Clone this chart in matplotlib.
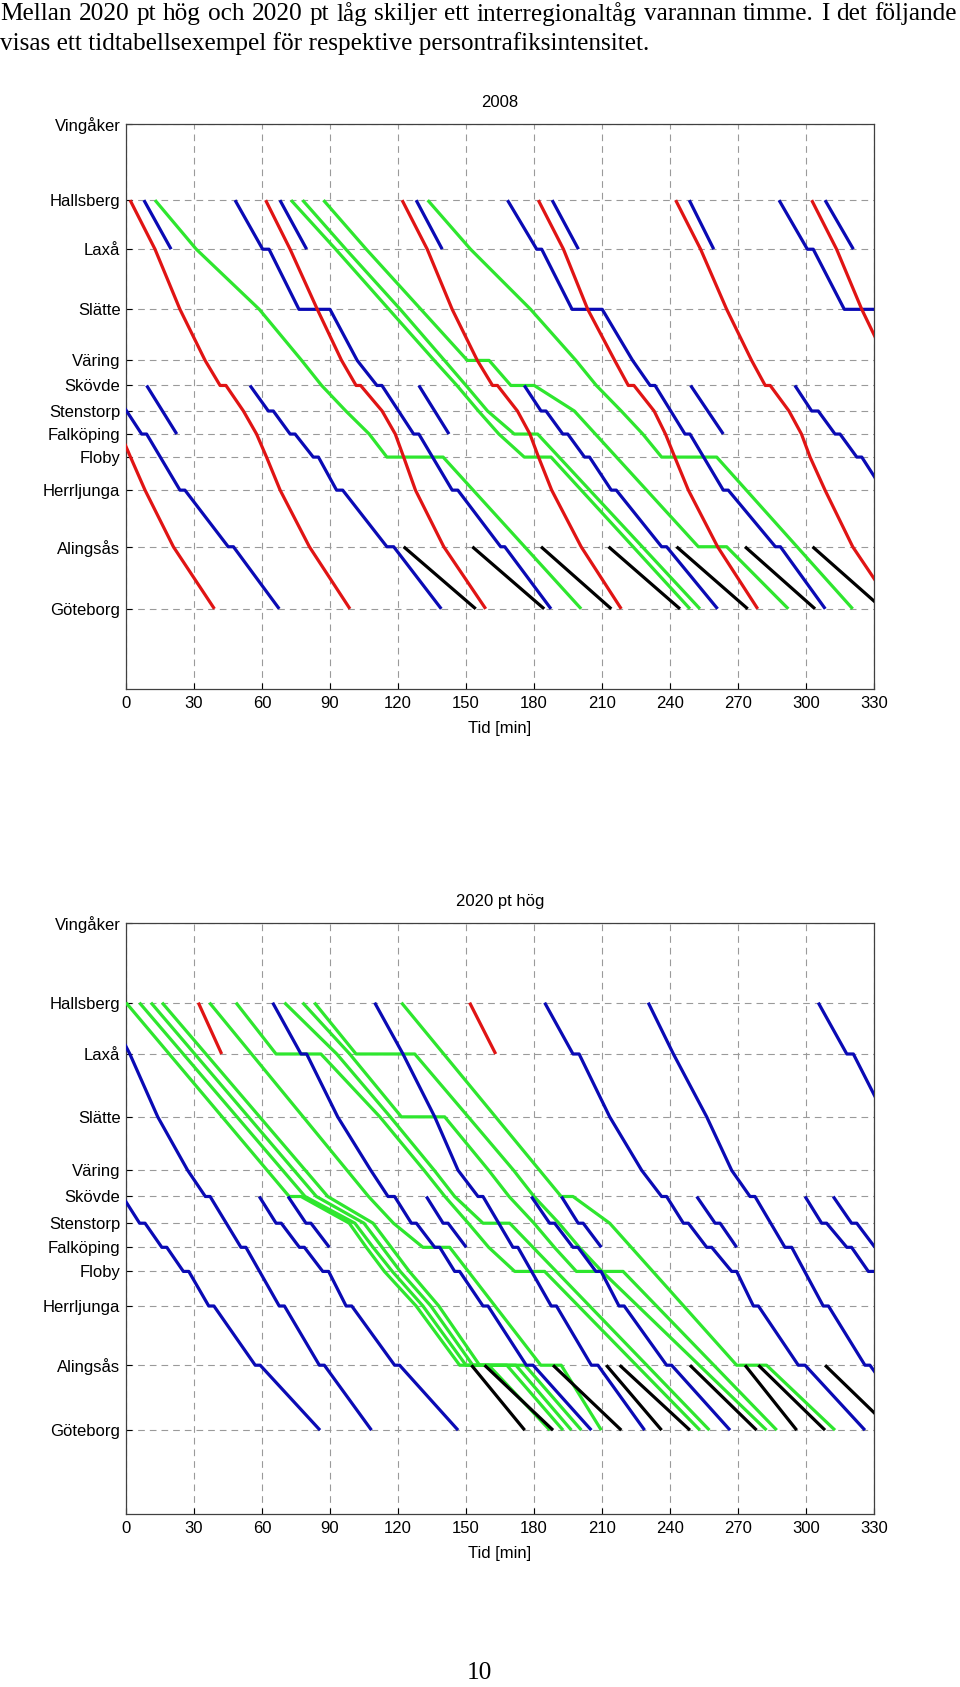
import matplotlib
matplotlib.use('Agg')
import matplotlib.pyplot as plt

# ---------------- stations ----------------
STATION_NAMES = ['Vingåker', 'Hallsberg', 'Laxå', 'Slätte', 'Väring', 'Skövde',
                 'Stenstorp', 'Falköping', 'Floby', 'Herrljunga', 'Alingsås', 'Göteborg']
STATION_CODES = ['Vi', 'Hb', 'La', 'Sl', 'Va', 'Sk', 'St', 'Fa', 'Fl', 'He', 'Al', 'Gb']
STATION_POS = [484, 408, 359, 299, 248, 223, 197.5, 174.5, 151.5, 118.5, 62, 0]
X_TICKS = [0, 30, 60, 90, 120, 150, 180, 210, 240, 270, 300, 330]

TITLE_LINE1 = 'Mellan 2020 pt hög och 2020 pt låg skiljer ett interregionaltåg varannan timme. I det följande'
TITLE_LINE2 = 'visas ett tidtabellsexempel för respektive persontrafiksintensitet.'
PAGE_NUMBER = '10'

# ---------------- 2008 ----------------
RED_2008 = [
    [(-58, 'Hb'), (-47, 'La'), (-36, 'Sl'), (-25, 'Va'), (-18.2, 'Sk'), (-15.8, 'Sk'), (-7.5, 'St'), (-2.4, 'Fa'), (2, 'Fl'), (8.4, 'He'), (20.9, 'Al'), (39, 'Gb')],
    [(1.8, 'Hb'), (12.8, 'La'), (23.8, 'Sl'), (34.9, 'Va'), (41.5, 'Sk'), (44.1, 'Sk'), (51.8, 'St'), (57.6, 'Fa'), (62, 'Fl'), (68, 'He'), (80.9, 'Al'), (98.8, 'Gb')],
    [(61.6, 'Hb'), (72.4, 'La'), (84.4, 'Sl'), (95.1, 'Va'), (101.5, 'Sk'), (103.5, 'Sk'), (113, 'St'), (118.8, 'Fa'), (122.5, 'Fl'), (127.7, 'He'), (140.2, 'Al'), (158.7, 'Gb')],
    [(121.8, 'Hb'), (132.9, 'La'), (143.9, 'Sl'), (155, 'Va'), (161.7, 'Sk'), (163.9, 'Sk'), (172.7, 'St'), (178.2, 'Fa'), (182, 'Fl'), (187.8, 'He'), (200.8, 'Al'), (218.5, 'Gb')],
    [(181.9, 'Hb'), (193, 'La'), (203.7, 'Sl'), (215.6, 'Va'), (221.6, 'Sk'), (224.1, 'Sk'), (233, 'St'), (238, 'Fa'), (242.1, 'Fl'), (248.1, 'He'), (261, 'Al'), (278.7, 'Gb')],
    [(242.5, 'Hb'), (253.5, 'La'), (265, 'Sl'), (276, 'Va'), (282, 'Sk'), (284.2, 'Sk'), (292.5, 'St'), (298, 'Fa'), (301.8, 'Fl'), (308.4, 'He'), (320.6, 'Al'), (339, 'Gb')],
    [(302.5, 'Hb'), (313.5, 'La'), (324.6, 'Sl'), (335.5, 'Va'), (342, 'Sk')],
]
BLUE_2008 = [
    [(7.9, 'Hb'), (19.9, 'La')],
    [(67.9, 'Hb'), (79.7, 'La')],
    [(128, 'Hb'), (139.5, 'La')],
    [(188, 'Hb'), (199.6, 'La')],
    [(248.5, 'Hb'), (259.3, 'La')],
    [(308.4, 'Hb'), (320.9, 'La')],
    [(-9.3, 'Sk'), (-7.1, 'Sk'), (6.9, 'Fa'), (9.1, 'Fa'), (23.8, 'He'), (26, 'He'), (45.1, 'Al'), (47.4, 'Al'), (67.6, 'Gb')],
    [(48.1, 'Hb'), (60.3, 'La'), (63.1, 'La'), (76.3, 'Sl'), (90, 'Sl'), (102, 'Va'), (110.7, 'Sk'), (112.9, 'Sk'), (126.9, 'Fa'), (129.2, 'Fa'), (143.9, 'He'), (146.4, 'He'), (165.3, 'Al'), (167.1, 'Al'), (187.5, 'Gb')],
    [(168.3, 'Hb'), (181.2, 'La'), (183.4, 'La'), (196.8, 'Sl'), (210.1, 'Sl'), (223.5, 'Va'), (231.2, 'Sk'), (233.4, 'Sk'), (246.6, 'Fa'), (248.8, 'Fa'), (263.5, 'He'), (265.7, 'He'), (286.5, 'Al'), (288.7, 'Al'), (308.5, 'Gb')],
    [(288.1, 'Hb'), (300.6, 'La'), (303.2, 'La'), (316.9, 'Sl'), (331, 'Sl'), (343, 'Va')],
    [(54.7, 'Sk'), (62.8, 'St'), (65, 'St'), (72.4, 'Fa'), (74.6, 'Fa'), (82.6, 'Fl'), (84.9, 'Fl'), (92.9, 'He'), (95.6, 'He'), (115.1, 'Al'), (118.1, 'Al'), (139.1, 'Gb')],
    [(175.7, 'Sk'), (183.1, 'St'), (185.3, 'St'), (192.7, 'Fa'), (194.9, 'Fa'), (202.3, 'Fl'), (204.5, 'Fl'), (214.1, 'He'), (216.3, 'He'), (236.3, 'Al'), (238.5, 'Al'), (261, 'Gb')],
    [(295.1, 'Sk'), (302.5, 'St'), (305.4, 'St'), (312.8, 'Fa'), (315, 'Fa'), (322.4, 'Fl'), (324.6, 'Fl'), (334, 'He')],
    [(9.1, 'Sk'), (22.4, 'Fa')],
    [(129.2, 'Sk'), (142.5, 'Fa')],
    [(249.1, 'Sk'), (263.5, 'Fa')],
]
GREEN_2008 = [
    [(12.8, 'Hb'), (31, 'La'), (58.8, 'Sl'), (77.5, 'Va'), (86.3, 'Sk'), (97, 'St'), (107.3, 'Fa'), (115.1, 'Fl'), (139.9, 'Fl'), (200.8, 'Gb')],
    [(72.8, 'Hb'), (92.5, 'La'), (116, 'Sl'), (136, 'Va'), (146, 'Sk'), (155.5, 'St'), (164.5, 'Fa'), (175.7, 'Fl'), (187.5, 'Fl'), (248.8, 'Gb')],
    [(77.9, 'Hb'), (97, 'La'), (121, 'Sl'), (140.5, 'Va'), (150, 'Sk'), (159.5, 'St'), (171.3, 'Fa'), (181.6, 'Fa'), (253.2, 'Gb')],
    [(87.1, 'Hb'), (106, 'La'), (150.6, 'Va'), (160.2, 'Va'), (169.8, 'Sk'), (180.1, 'Sk'), (197.8, 'St'), (252.5, 'Al'), (265, 'Al'), (292.2, 'Gb')],
    [(133.1, 'Hb'), (152, 'La'), (178.5, 'Sl'), (198.5, 'Va'), (207.5, 'Sk'), (218.5, 'St'), (228, 'Fa'), (236.3, 'Fl'), (260.6, 'Fl'), (320.6, 'Gb')],
]
BLACK_2008 = [
    [(122.5, 'Al'), (154.3, 'Gb')], [(152.8, 'Al'), (184.5, 'Gb')], [(183.1, 'Al'), (214.1, 'Gb')],
    [(212.9, 'Al'), (244.4, 'Gb')], [(242.9, 'Al'), (274.3, 'Gb')], [(273.1, 'Al'), (304, 'Gb')],
    [(302.9, 'Al'), (333.9, 'Gb')],
]

# ---------------- 2020 pt hög ----------------
RED_2020 = [
    [(31.9, 'Hb'), (42.2, 'La')],
    [(151.6, 'Hb'), (163.1, 'La')],
]
BLUE_2020 = [
    [(-3.5, 'Sk'), (-1.5, 'Sk'), (6, 'St'), (8.4, 'St'), (15.8, 'Fa'), (18, 'Fa'), (25.3, 'Fl'), (27.7, 'Fl'), (36.5, 'He'), (38.8, 'He'), (57, 'Al'), (59.2, 'Al'), (85.6, 'Gb')],
    [(-10, 'Hb'), (1.7, 'La'), (14, 'Sl'), (27.2, 'Va'), (35, 'Sk'), (37.1, 'Sk'), (50.7, 'Fa'), (52.9, 'Fa'), (67.6, 'He'), (69.9, 'He'), (85.3, 'Al'), (87.5, 'Al'), (108.3, 'Gb')],
    [(58.8, 'Sk'), (66.2, 'St'), (68.5, 'St'), (76.5, 'Fa'), (78.7, 'Fa'), (86.8, 'Fl'), (89.4, 'Fl'), (97.1, 'He'), (99.6, 'He'), (118.5, 'Al'), (120.7, 'Al'), (146.5, 'Gb')],
    [(71.5, 'Sk'), (79.4, 'St'), (81.6, 'St'), (89.7, 'Fa')],
    [(64.7, 'Hb'), (77.2, 'La'), (79.7, 'La'), (93.4, 'Sl'), (108, 'Va'), (115.6, 'Sk'), (118.5, 'Sk'), (125.9, 'St'), (128.1, 'St'), (136.2, 'Fa'), (138.4, 'Fa'), (145, 'Fl'), (147.2, 'Fl'), (157.5, 'He'), (159.7, 'He'), (176.6, 'Al'), (179.6, 'Al'), (205.3, 'Gb')],
    [(132.5, 'Sk'), (139.9, 'St'), (142.1, 'St'), (150.1, 'Fa')],
    [(109.7, 'Hb'), (122.2, 'La'), (136.2, 'Sl'), (146.5, 'Va'), (155.3, 'Sk'), (157.5, 'Sk'), (170.7, 'Fa'), (172.9, 'Fa'), (187.6, 'He'), (189.9, 'He'), (205.3, 'Al'), (208.2, 'Al'), (228.8, 'Gb')],
    [(178.8, 'Sk'), (186.9, 'St'), (189.1, 'St'), (197.2, 'Fa'), (199.4, 'Fa'), (207.3, 'Fl'), (209.6, 'Fl'), (217.5, 'He'), (219.8, 'He'), (238.5, 'Al'), (240.7, 'Al'), (266.5, 'Gb')],
    [(192.1, 'Sk'), (199.5, 'St'), (201.7, 'St'), (209.7, 'Fa')],
    [(184.7, 'Hb'), (197.2, 'La'), (199.9, 'La'), (213.4, 'Sl'), (227.5, 'Va'), (236.3, 'Sk'), (238.5, 'Sk'), (245.9, 'St'), (248.1, 'St'), (256.2, 'Fa'), (258.4, 'Fa'), (267.2, 'Fl'), (269.4, 'Fl'), (276.8, 'He'), (279, 'He'), (296.6, 'Al'), (299.6, 'Al'), (326, 'Gb')],
    [(251.8, 'Sk'), (259.9, 'St'), (262.1, 'St'), (269.4, 'Fa')],
    [(230.4, 'Hb'), (241.5, 'La'), (256.2, 'Sl'), (267.2, 'Va'), (275.3, 'Sk'), (277.5, 'Sk'), (290.7, 'Fa'), (293.7, 'Fa'), (307.6, 'He'), (309.9, 'He'), (326, 'Al'), (328.2, 'Al'), (349, 'Gb')],
    [(299.6, 'Sk'), (306.9, 'St'), (309.1, 'St'), (318, 'Fa'), (320.1, 'Fa'), (327.5, 'Fl'), (330.4, 'Fl'), (338, 'He')],
    [(312, 'Sk'), (320.1, 'St'), (322.4, 'St'), (330.4, 'Fa')],
    [(305.4, 'Hb'), (318, 'La'), (320.9, 'La'), (335, 'Sl')],
]
GREEN_2020 = [
    [(0, 'Hb'), (72, 'Sk'), (77.2, 'Sk'), (98.5, 'St'), (106, 'Fa'), (114, 'Fl'), (128, 'He'), (147.2, 'Al'), (160, 'Al'), (187, 'Gb')],
    [(5.9, 'Hb'), (79, 'Sk'), (101, 'St'), (109, 'Fa'), (117.5, 'Fl'), (131, 'He'), (150, 'Al'), (168, 'Al'), (192.8, 'Gb')],
    [(11, 'Hb'), (84, 'Sk'), (105, 'St'), (113, 'Fa'), (121, 'Fl'), (134.5, 'He'), (153, 'Al'), (172, 'Al'), (196.5, 'Gb')],
    [(15.9, 'Hb'), (89, 'Sk'), (109, 'St'), (117, 'Fa'), (125, 'Fl'), (138, 'He'), (156, 'Al'), (176, 'Al'), (200.9, 'Gb')],
    [(36.8, 'Hb'), (107, 'Sk'), (118, 'St'), (131, 'Fa'), (142.8, 'Fa'), (183, 'Al'), (192, 'Al'), (209.7, 'Gb')],
    [(48.5, 'Hb'), (66.2, 'La'), (86, 'La'), (112, 'Sl'), (131.5, 'Va'), (140.7, 'Sk'), (151, 'St'), (160, 'Fa'), (171.5, 'Fl'), (184.7, 'Fl'), (253.2, 'Gb')],
    [(69.9, 'Hb'), (93, 'La'), (116.6, 'Sl'), (136, 'Va'), (145, 'Sk'), (157.5, 'St'), (169.3, 'St'), (257.4, 'Gb')],
    [(77.9, 'Hb'), (98.7, 'La'), (121.5, 'Sl'), (140.6, 'Sl'), (160, 'Va'), (169, 'Sk'), (180, 'St'), (189, 'Fa'), (198.7, 'Fl'), (219.3, 'Fl'), (287.1, 'Gb')],
    [(83.1, 'Hb'), (101.5, 'La'), (127.4, 'La'), (151, 'Sl'), (171, 'Va'), (180, 'Sk'), (191, 'St'), (200, 'Fa'), (210, 'Fl'), (282.6, 'Gb')],
    [(121.5, 'Hb'), (192, 'Sk'), (197.2, 'Sk'), (213.4, 'St'), (269.4, 'Al'), (282.6, 'Al'), (312.8, 'Gb')],
]
BLACK_2020 = [
    [(152.4, 'Al'), (175.9, 'Gb')], [(158.2, 'Al'), (188.4, 'Gb')], [(188.4, 'Al'), (218.5, 'Gb')],
    [(211.9, 'Al'), (236.3, 'Gb')], [(217.8, 'Al'), (248.8, 'Gb')], [(248.8, 'Al'), (278.2, 'Gb')],
    [(273.1, 'Al'), (295.9, 'Gb')], [(279, 'Al'), (308.4, 'Gb')], [(308.4, 'Al'), (338, 'Gb')],
]

# ---------------- drawing ----------------
POS = dict(zip(STATION_CODES, STATION_POS))
COLORS = {'red': '#e01414', 'blue': '#0a0ab4', 'green': '#2ee62e', 'black': '#000000'}
SANS = ['Liberation Sans', 'DejaVu Sans']
SERIF = ['Liberation Serif', 'DejaVu Serif']
FIG_W, FIG_H = 960, 1687

fig = plt.figure(figsize=(FIG_W / 100, FIG_H / 100), dpi=100)


def draw_panel(ax, groups, title):
    for color, trains in groups:
        for tr in trains:
            ax.plot([p[0] for p in tr], [POS[p[1]] for p in tr], color=COLORS[color],
                    lw=2.3, solid_joinstyle='round', solid_capstyle='butt', zorder=3)
    ax.set_xlim(0, 330)
    ax.set_ylim(-80, 484)
    ax.set_xticks(X_TICKS)
    ax.set_xticklabels([str(v) for v in X_TICKS], family=SANS, fontsize=12)
    ax.set_yticks(STATION_POS)
    ax.set_yticklabels(STATION_NAMES, family=SANS, fontsize=12)
    ax.grid(True, linestyle=(0, (6, 4.5)), color='#9a9a9a', lw=0.8, zorder=1)
    ax.tick_params(direction='in', length=4, pad=5, colors='#000000', width=0.8)
    ax.tick_params(axis='y', pad=4)
    for s in ax.spines.values():
        s.set_color('#404040')
        s.set_linewidth(0.9)
    ax.set_xlabel('Tid [min]', family=SANS, fontsize=12, labelpad=7)
    ax.set_title(title, family=SANS, fontsize=12, pad=12)


W = 748 / FIG_W
ax1 = fig.add_axes([126 / FIG_W, 1 - 689 / FIG_H, W, 565 / FIG_H])
draw_panel(ax1, [('green', GREEN_2008), ('black', BLACK_2008), ('blue', BLUE_2008), ('red', RED_2008)], '2008')
ax2 = fig.add_axes([126 / FIG_W, 1 - 1514 / FIG_H, W, 591 / FIG_H])
draw_panel(ax2, [('green', GREEN_2020), ('black', BLACK_2020), ('blue', BLUE_2020), ('red', RED_2020)], '2020 pt hög')

# justified first line of body text
BODY_SIZE = 18.2
renderer = fig.canvas.get_renderer()
words = TITLE_LINE1.split(' ')
y1 = 1 - 14 / FIG_H
tmp = [fig.text(0, y1, w, family=SERIF, fontsize=BODY_SIZE, ha='left', va='center') for w in words]
widths = [t.get_window_extent(renderer).width for t in tmp]
gap = (957 - sum(widths)) / (len(words) - 1)
x = 0.0
for t, w in zip(tmp, widths):
    t.set_x(x / FIG_W)
    x += w + gap
fig.text(0.0, 1 - 44 / FIG_H, TITLE_LINE2, family=SERIF, fontsize=BODY_SIZE, ha='left', va='center')
fig.text(479 / FIG_W, 1 - 1673 / FIG_H, PAGE_NUMBER, family=SERIF, fontsize=BODY_SIZE, ha='center', va='center')

fig.savefig('out.png', dpi=100)
